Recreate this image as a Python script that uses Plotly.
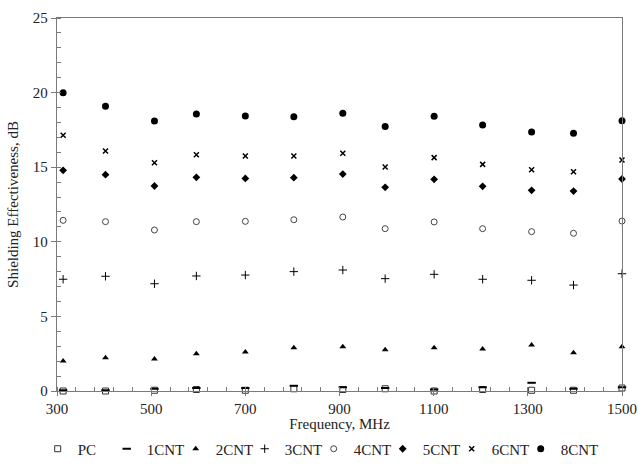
import plotly.graph_objects as go

# Measurement frequencies (MHz)
freq = [313, 403, 507, 596, 700, 803, 907, 997, 1101, 1204, 1308, 1397, 1500]

# Shielding effectiveness (dB) per sample
se_pc = [0.0, 0.0, 0.05, 0.1, 0.05, 0.15, 0.1, 0.15, 0.0, 0.1, 0.05, 0.05, 0.2]
se_1cnt = [0.05, 0.05, 0.15, 0.2, 0.2, 0.35, 0.25, 0.2, 0.1, 0.25, 0.55, 0.15, 0.25]
se_2cnt = [2.01, 2.23, 2.14, 2.50, 2.61, 2.90, 2.97, 2.77, 2.90, 2.81, 3.08, 2.57, 2.97]
se_3cnt = [7.49, 7.69, 7.19, 7.71, 7.77, 8.00, 8.11, 7.53, 7.82, 7.49, 7.42, 7.10, 7.86]
se_4cnt = [11.44, 11.35, 10.79, 11.35, 11.37, 11.48, 11.66, 10.88, 11.33, 10.88, 10.68, 10.57, 11.39]
se_5cnt = [14.79, 14.50, 13.74, 14.32, 14.25, 14.30, 14.54, 13.65, 14.19, 13.72, 13.45, 13.40, 14.21]
se_6cnt = [17.14, 16.09, 15.30, 15.84, 15.75, 15.75, 15.93, 15.01, 15.64, 15.19, 14.83, 14.70, 15.48]
se_8cnt = [19.99, 19.08, 18.10, 18.57, 18.43, 18.38, 18.61, 17.72, 18.41, 17.83, 17.36, 17.27, 18.12]

names = ["PC", "1CNT", "2CNT", "3CNT", "4CNT", "5CNT", "6CNT", "8CNT"]
series = [se_pc, se_1cnt, se_2cnt, se_3cnt, se_4cnt, se_5cnt, se_6cnt, se_8cnt]

styles = [
    dict(symbol="square-open", size=6, color="#333333", line=dict(width=1, color="#333333")),
    dict(symbol="line-ew", size=6, color="black", line=dict(width=2, color="black")),
    dict(symbol="triangle-up", size=6, color="black"),
    dict(symbol="cross-thin", size=6, color="black", line=dict(width=1, color="black")),
    dict(symbol="circle-open", size=6, color="#444444", line=dict(width=1, color="#444444")),
    dict(symbol="diamond", size=6, color="black"),
    dict(symbol="x-thin", size=5, color="black", line=dict(width=1.5, color="black")),
    dict(symbol="circle", size=7, color="black"),
]

fig = go.Figure()
for i, (name, ys, st) in enumerate(zip(names, series, styles)):
    fig.add_trace(go.Scatter(
        x=freq, y=ys, mode="markers", name=name,
        marker=st, cliponaxis=False,
        # last entry gets room for its full label
        legendwidth=40 if i == len(names) - 1 else 24,
    ))

serif = "Liberation Serif, Times New Roman, serif"
axis_col = "#7a7a7a"
txt_col = "#222222"

fig.update_layout(
    width=639, height=468,
    margin=dict(l=57, r=17, t=18, b=77, autoexpand=False),
    paper_bgcolor="white", plot_bgcolor="white",
    font=dict(family=serif, size=15, color=txt_col),
    showlegend=True,
    legend=dict(
        orientation="h", xref="container", yref="container",
        x=0.059, xanchor="left", y=0.0406, yanchor="middle",
        font=dict(family=serif, size=15, color=txt_col),
        entrywidth=24, entrywidthmode="pixels", itemwidth=30,
        bgcolor="rgba(0,0,0,0)",
    ),
)

fig.update_xaxes(
    range=[300, 1500], tick0=300, dtick=200,
    showgrid=False, zeroline=False,
    showline=True, linecolor=axis_col, linewidth=1.3, mirror=True,
    ticks="outside", ticklen=4, tickcolor=axis_col, tickwidth=1,
    minor=dict(ticks="inside", ticklen=4, dtick=40, tick0=300, tickcolor=axis_col, showgrid=False),
    tickfont=dict(family=serif, size=15, color=txt_col),
    title=dict(text="Frequency, MHz", font=dict(family=serif, size=15, color=txt_col), standoff=5),
)

fig.update_yaxes(
    range=[0, 25], tick0=0, dtick=5,
    showgrid=False, zeroline=False,
    showline=True, linecolor=axis_col, linewidth=1.3, mirror=True,
    ticks="outside", ticklen=5, tickcolor=axis_col, tickwidth=1,
    minor=dict(ticks="inside", ticklen=4, dtick=1, tickcolor=axis_col, showgrid=False),
    tickfont=dict(family=serif, size=15, color=txt_col),
    title=dict(text="Shielding Effectiveness, dB", font=dict(family=serif, size=15, color=txt_col), standoff=10),
)

fig.write_html("out.html")
